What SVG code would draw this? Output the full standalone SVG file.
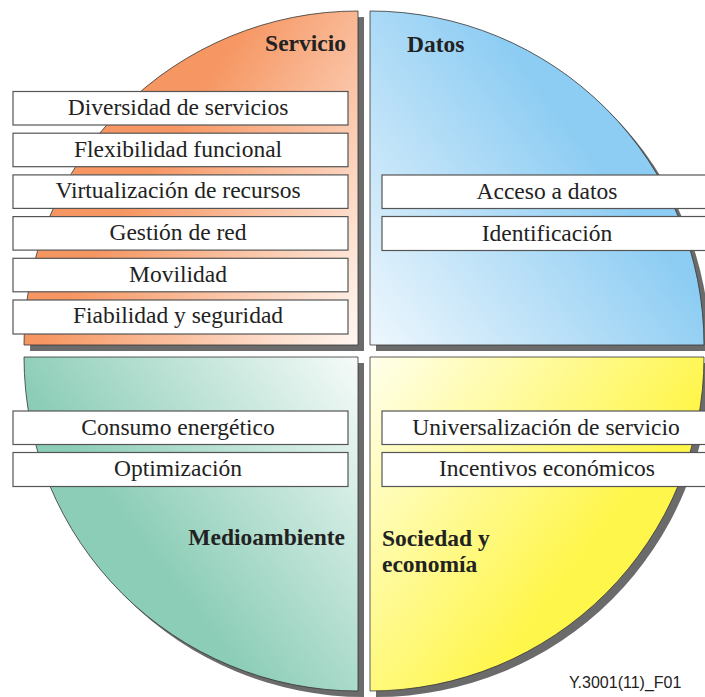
<svg xmlns="http://www.w3.org/2000/svg" width="705" height="697" viewBox="0 0 705 697">
<defs>
<linearGradient id="gS" gradientUnits="userSpaceOnUse" x1="358" y1="345" x2="130" y2="200">
<stop offset="0" stop-color="#FFF8F3"/><stop offset="1" stop-color="#F69662"/>
</linearGradient>
<linearGradient id="gD" gradientUnits="userSpaceOnUse" x1="370" y1="345" x2="600" y2="170">
<stop offset="0" stop-color="#EEF7FD"/><stop offset="1" stop-color="#8ECDF3"/>
</linearGradient>
<linearGradient id="gM" gradientUnits="userSpaceOnUse" x1="358" y1="357" x2="130" y2="530">
<stop offset="0" stop-color="#F6FBF9"/><stop offset="1" stop-color="#8BCDB6"/>
</linearGradient>
<linearGradient id="gY" gradientUnits="userSpaceOnUse" x1="370" y1="357" x2="600" y2="530">
<stop offset="0" stop-color="#FFFFEC"/><stop offset="1" stop-color="#FFF64C"/>
</linearGradient>
</defs>
<style>
.sh{fill:#6b6b6b}
.q{stroke:#333;stroke-width:0.8}
.box{fill:#fff;stroke:#555;stroke-width:1.2}
.t{font-family:"Liberation Serif","Times New Roman",serif;font-size:23.5px;fill:#222;text-anchor:middle}
.h{font-family:"Liberation Serif","Times New Roman",serif;font-size:23.5px;font-weight:bold;fill:#222}
.f{font-family:"Liberation Sans",Arial,sans-serif;font-size:16px;fill:#222}
</style>
<rect width="705" height="697" fill="#fff"/>
<g id="servicio">
<path class="sh" d="M364,351 L30,351 A334,334 0 0 1 364,17 Z"/>
<path class="q" fill="url(#gS)" d="M358,345 L24,345 A334,334 0 0 1 358,11 Z"/>
<text class="h" x="346" y="51" text-anchor="end">Servicio</text>
</g>
<g id="datos">
<path class="sh" d="M376,351 L376,17 A334,334 0 0 1 710,351 Z"/>
<path class="q" fill="url(#gD)" d="M370,345 L370,11 A334,334 0 0 1 704,345 Z"/>
<text class="h" x="407" y="52">Datos</text>
</g>
<g id="medioambiente">
<path class="sh" d="M364,363 L364,697 A334,334 0 0 1 30,363 Z"/>
<path class="q" fill="url(#gM)" d="M358,357 L358,691 A334,334 0 0 1 24,357 Z"/>
<text class="h" x="345" y="545" text-anchor="end">Medioambiente</text>
</g>
<g id="sociedad">
<path class="sh" d="M376,363 L710,363 A334,334 0 0 1 376,697 Z"/>
<path class="q" fill="url(#gY)" d="M370,357 L704,357 A334,334 0 0 1 370,691 Z"/>
<text class="h" x="382" y="546">Sociedad y</text>
<text class="h" x="382" y="572">economía</text>
</g>
<g id="connectors"/>
<g id="diversidad"><rect class="box" x="13" y="91.5" width="335" height="33.5"/><text class="t" x="178" y="115">Diversidad de servicios</text></g>
<g id="flexibilidad"><rect class="box" x="13" y="133.2" width="335" height="33.5"/><text class="t" x="178" y="156.7">Flexibilidad funcional</text></g>
<g id="virtualizacion"><rect class="box" x="13" y="174.9" width="335" height="33.5"/><text class="t" x="178" y="198.4">Virtualización de recursos</text></g>
<g id="gestion"><rect class="box" x="13" y="216.6" width="335" height="33.5"/><text class="t" x="178" y="240.1">Gestión de red</text></g>
<g id="movilidad"><rect class="box" x="13" y="258.3" width="335" height="33.5"/><text class="t" x="178" y="281.8">Movilidad</text></g>
<g id="fiabilidad"><rect class="box" x="13" y="300" width="335" height="34"/><text class="t" x="178" y="323">Fiabilidad y seguridad</text></g>
<g id="acceso"><rect class="box" x="382" y="175" width="332" height="33.5"/><text class="t" x="547" y="198.5">Acceso a datos</text></g>
<g id="identificacion"><rect class="box" x="382" y="216.5" width="332" height="34"/><text class="t" x="547" y="240.5">Identificación</text></g>
<g id="consumo"><rect class="box" x="13" y="411" width="335" height="33.5"/><text class="t" x="178" y="434.5">Consumo energético</text></g>
<g id="optimizacion"><rect class="box" x="13" y="452.5" width="335" height="34"/><text class="t" x="178" y="476">Optimización</text></g>
<g id="universalizacion"><rect class="box" x="382" y="411" width="332" height="33.5"/><text class="t" x="546" y="434.5">Universalización de servicio</text></g>
<g id="incentivos"><rect class="box" x="382" y="452.5" width="332" height="34"/><text class="t" x="547" y="476">Incentivos económicos</text></g>
<text class="f" x="569" y="688">Y.3001(11)_F01</text>
</svg>
